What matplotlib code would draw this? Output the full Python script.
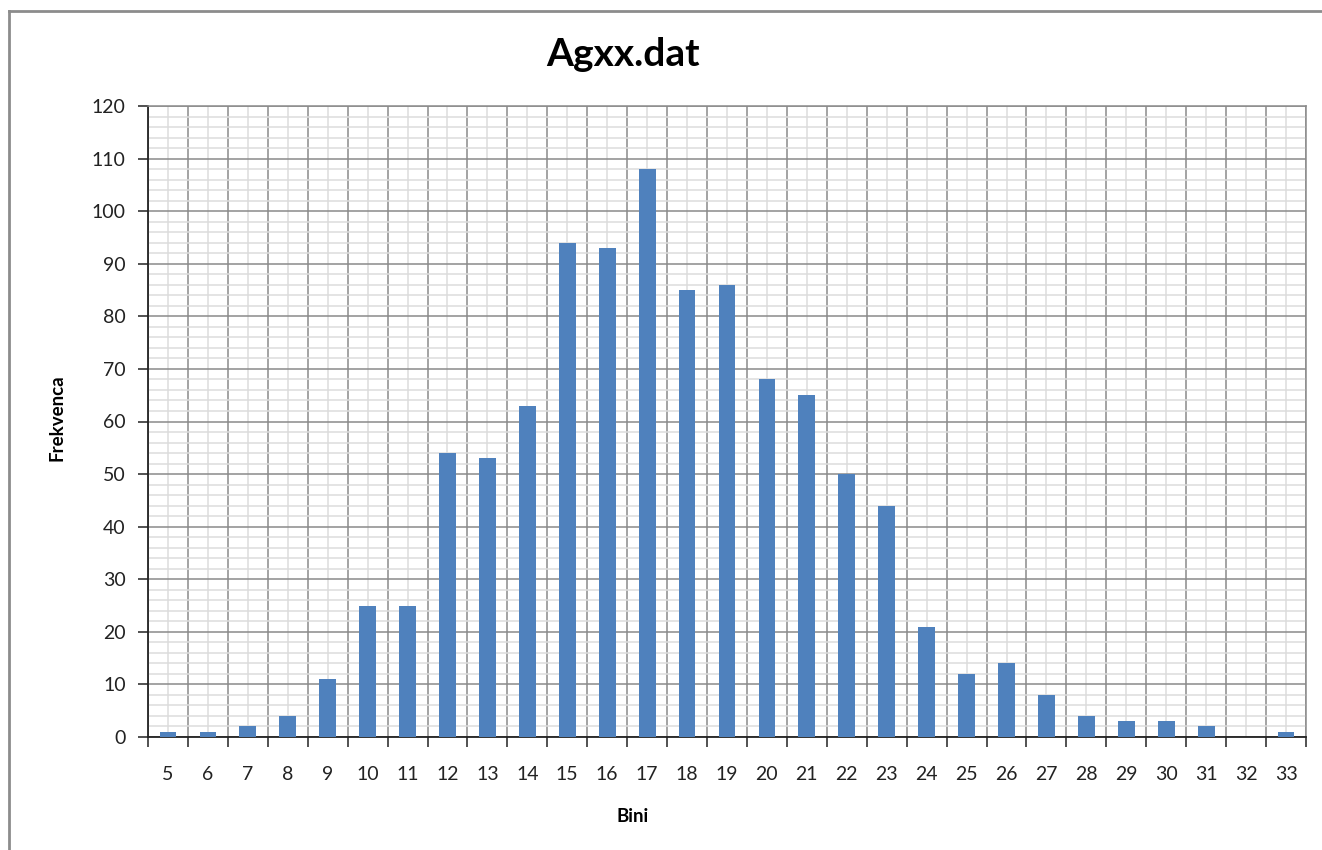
import numpy as np
import matplotlib.pyplot as plt
from matplotlib.ticker import MultipleLocator, FixedLocator, NullFormatter
from matplotlib.lines import Line2D

bins = [5, 6, 7, 8, 9, 10, 11, 12, 13, 14, 15, 16, 17, 18, 19, 20,
        21, 22, 23, 24, 25, 26, 27, 28, 29, 30, 31, 32, 33]
counts = [1, 1, 2, 4, 11, 25, 25, 54, 53, 63, 94, 93, 108, 85, 86, 68,
          65, 50, 44, 21, 12, 14, 8, 4, 3, 3, 2, 0, 1]

plt.rcParams['font.family'] = ['Lato', 'DejaVu Sans']

fig = plt.figure(figsize=(13.22, 8.5), dpi=100)
ax = fig.add_axes([148 / 1322, 1 - 737 / 850, (1306 - 148) / 1322, (737 - 106) / 850])

x = np.arange(len(bins))
ax.bar(x, counts, width=0.42, color='#4F81BD', zorder=3)

ax.set_xlim(-0.5, len(bins) - 0.5)
ax.set_ylim(0, 120)

# category boundaries = major ticks (no labels), centers = minor ticks with labels
ax.xaxis.set_major_locator(FixedLocator(np.arange(len(bins) + 1) - 0.5))
ax.xaxis.set_major_formatter(NullFormatter())
ax.xaxis.set_minor_locator(FixedLocator(x))
ax.set_xticklabels(bins, minor=True)
ax.yaxis.set_major_locator(MultipleLocator(10))
ax.yaxis.set_minor_locator(MultipleLocator(2))

ax.tick_params(axis='x', which='major', direction='out', length=7, width=1.2, color='#333333')
ax.tick_params(axis='x', which='minor', length=0, pad=21, labelsize=14, labelcolor='#222222')
ax.tick_params(axis='y', which='major', direction='out', length=7, width=1.2, color='#333333',
               pad=9, labelsize=14, labelcolor='#222222')
ax.tick_params(axis='y', which='minor', length=0)

ax.grid(which='major', color='#8a8a8a', linewidth=1.1, zorder=0)
ax.grid(which='minor', color='#dcdcdc', linewidth=1.1, zorder=0)
ax.set_axisbelow(True)

for side in ['left', 'bottom']:
    ax.spines[side].set_color('#222222')
    ax.spines[side].set_linewidth(1.3)
for side in ['top', 'right']:
    ax.spines[side].set_color('#8a8a8a')
    ax.spines[side].set_linewidth(1.1)

fig.text(623 / 1322, 1 - 55 / 850, 'Agxx.dat', ha='center', va='center',
         fontsize=28, fontweight='bold')
fig.text(57 / 1322, 1 - 418 / 850, 'Frekvenca', ha='center', va='center',
         rotation=90, fontsize=13.5, fontweight='bold')
fig.text(633 / 1322, 1 - 817 / 850, 'Bini', ha='center', va='center',
         fontsize=13.5, fontweight='bold')

# outer chart border (continues past the right/bottom edges)
bx, by = 8.5 / 1322, 1 - 11 / 850
fig.add_artist(Line2D([bx, bx], [0, by], color='#8c8c8c', linewidth=2))
fig.add_artist(Line2D([bx, 1], [by, by], color='#8c8c8c', linewidth=2))

fig.savefig('out.png', dpi=100)
